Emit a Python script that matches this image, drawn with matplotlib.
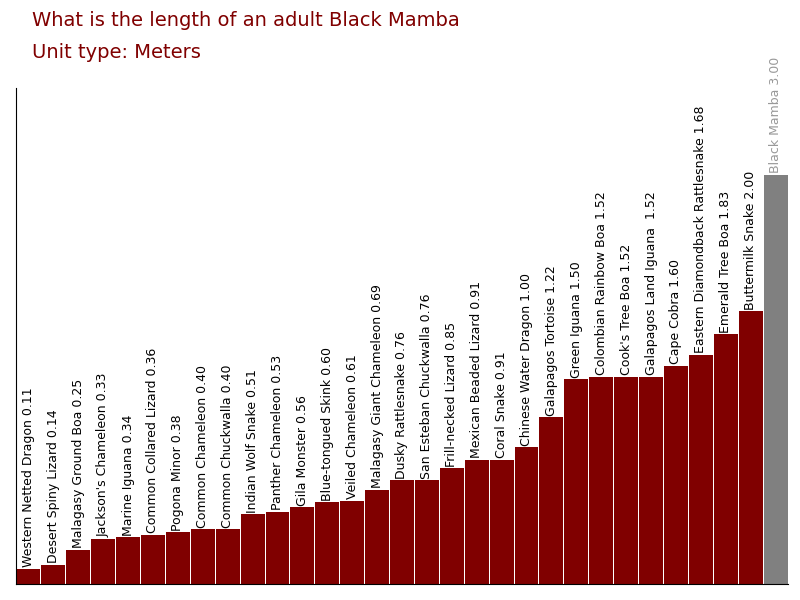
import matplotlib
matplotlib.use("Agg")
import matplotlib.pyplot as plt

names = ["Western Netted Dragon", "Desert Spiny Lizard", "Malagasy Ground Boa", "Jackson's Chameleon",
         "Marine Iguana", "Common Collared Lizard", "Pogona Minor", "Common Chameleon",
         "Common Chuckwalla", "Indian Wolf Snake", "Panther Chameleon", "Gila Monster",
         "Blue-tongued Skink", "Veiled Chameleon", "Malagasy Giant Chameleon", "Dusky Rattlesnake",
         "San Esteban Chuckwalla", "Frill-necked Lizard", "Mexican Beaded Lizard", "Coral Snake",
         "Chinese Water Dragon", "Galapagos Tortoise", "Green Iguana", "Colombian Rainbow Boa",
         "Cook's Tree Boa", "Galapagos Land Iguana ", "Cape Cobra", "Eastern Diamondback Rattlesnake",
         "Emerald Tree Boa", "Buttermilk Snake", "Black Mamba"]
values = [0.11, 0.14, 0.25, 0.33, 0.34, 0.36, 0.38, 0.40, 0.40, 0.51, 0.53, 0.56, 0.60, 0.61,
          0.69, 0.76, 0.76, 0.85, 0.91, 0.91, 1.00, 1.22, 1.50, 1.52, 1.52, 1.52, 1.60, 1.68,
          1.83, 2.00, 3.00]

fig = plt.figure(figsize=(8, 6), dpi=100)
ax = fig.add_axes([0.02, 0.027, 0.965, 0.827])

colors = ["#800000"] * (len(values) - 1) + ["#808080"]
x = range(len(values))
ax.bar(x, values, width=0.96, color=colors)
for i, (n, v) in enumerate(zip(names, values)):
    tc = "#999999" if n == "Black Mamba" else "black"
    ax.text(i, v + 0.01, "%s %.2f" % (n, v), rotation=90, ha="center", va="bottom",
            fontsize=9, color=tc)

ax.set_xlim(-0.5, len(values) - 0.5)
ax.set_ylim(0, 3.64)
ax.set_xticks([])
ax.set_yticks([])
ax.spines["top"].set_visible(False)
ax.spines["right"].set_visible(False)

fig.text(0.04, 0.965, "What is the length of an adult Black Mamba", color="#800000",
         fontsize=14, va="center")
fig.text(0.04, 0.913, "Unit type: Meters", color="#800000", fontsize=14, va="center")

plt.savefig("out.png", dpi=100)
